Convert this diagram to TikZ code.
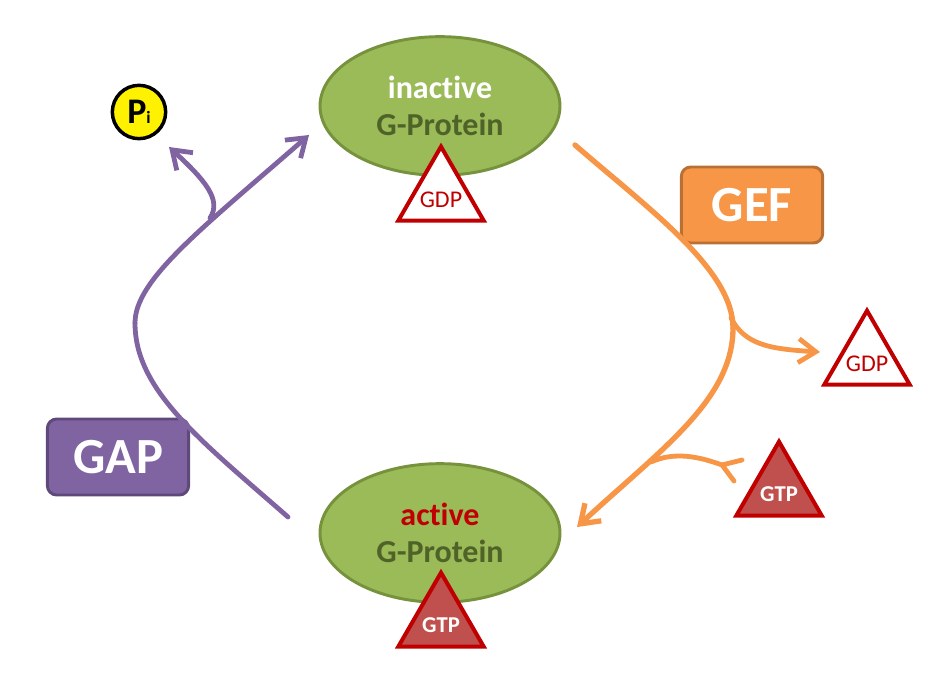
\documentclass[tikz,border=0pt]{standalone}
\usepackage{fontspec}
\setmainfont{Carlito}[Ligatures=NoCommon]
\usetikzlibrary{arrows.meta,shapes.geometric}

\definecolor{protgreen}{HTML}{9BBB59}
\definecolor{protedge}{HTML}{76923C}
\definecolor{protdark}{HTML}{4F6228}
\definecolor{nuclred}{HTML}{C00000}
\definecolor{gtpfill}{HTML}{C0504D}
\definecolor{geforange}{HTML}{F79646}
\definecolor{gefedge}{HTML}{B97034}
\definecolor{gappurple}{HTML}{8064A2}
\definecolor{gapedge}{HTML}{5F497A}

\begin{document}
\begin{tikzpicture}[x=0.75pt,y=-0.75pt,>={Straight Barb[length=13pt,width=18pt]},
  gprot/.style={ellipse,draw=protedge,fill=protgreen,line width=2.2pt,minimum width=180pt,minimum height=104pt,align=center,font=\bfseries\fontsize{24}{28}\selectfont},
  nucl/.style={regular polygon,regular polygon sides=3,draw=nuclred,line width=3pt,minimum size=74pt,inner sep=0pt},
  gdp/.style={nucl,fill=white,label={[text=nuclred,font=\fontsize{18}{18}\selectfont,yshift=-3pt]center:GDP}},
  gtp/.style={nucl,fill=gtpfill,label={[text=white,font=\bfseries\fontsize{17}{17}\selectfont,yshift=-2pt]center:GTP}},
  enzyme/.style={rounded corners=7pt,line width=2.2pt,minimum width=106pt,minimum height=57pt,text=white,font=\bfseries\fontsize{38}{38}\selectfont},
  flow/.style={line width=3.6pt,line cap=round,line join=round}]

\useasboundingbox (0,0) rectangle (941,684);

% the two states of the G-protein
\node[gprot] (inact) at (440,106) {\textcolor{white}{inactive}\\\textcolor{protdark}{G-Protein}};
\node[gprot] (act) at (440,533) {\textcolor{nuclred}{active}\\\textcolor{protdark}{G-Protein}};

\node[gdp] (gdpin) at (441,196) {};
\node[gtp] (gtpin) at (441,622) {};
\node[gdp] (gdpout) at (867,360) {};
\node[gtp] (gtpout) at (779,491) {};

\node[circle,draw=black,fill=yellow,line width=2.6pt,minimum size=40pt,inner sep=0pt,
  font=\bfseries\fontsize{27}{27}\selectfont] (pi) at (139,112) {P{\fontsize{13}{13}\selectfont i}};

\node[enzyme,draw=gefedge,fill=geforange] (gef) at (752,205) {GEF};
\node[enzyme,draw=gapedge,fill=gappurple] (gap) at (118,457) {GAP};

% GAP: active -> inactive, releasing Pi
\coordinate (gapstart) at (288,517);
\coordinate (gapleft) at (135,323);
\coordinate (gapfork) at (210,218);
\coordinate (gapend) at (309,135);
\coordinate (piend) at (169,147);
\draw[flow,draw=gappurple] (gapstart) .. controls (200,440) and (135,390) .. (gapleft);
\draw[flow,draw=gappurple,->] (gapleft) .. controls (135,280) and (200,230) .. (gapend);
\draw[flow,draw=gappurple,->] (gapfork) .. controls (222,200) and (205,180) .. (piend);

% GEF: inactive -> active, GDP out, GTP in
\coordinate (gefstart) at (575,145);
\coordinate (gefright) at (733,328);
\coordinate (gefend) at (577,527);
\coordinate (gdpend) at (820,352);
\coordinate (gtpjoin) at (651,462);
\coordinate (gtpend) at (722,465);
\draw[flow,draw=geforange,line width=4pt] (gefstart) .. controls (650,210) and (733,270) .. (gefright);
\draw[flow,draw=geforange,line width=4pt,->] (gefright) .. controls (733,400) and (660,450) .. (gefend);
\draw[flow,draw=geforange,->] (731,318) .. controls (745,345) and (770,349) .. (gdpend);
\draw[flow,draw=geforange] (gtpjoin) .. controls (675,451) and (700,457) .. (gtpend);
\draw[flow,draw=geforange] (gtpend) ++(20,-5) -- (gtpend) -- ++(12,16);

\end{tikzpicture}
\end{document}
